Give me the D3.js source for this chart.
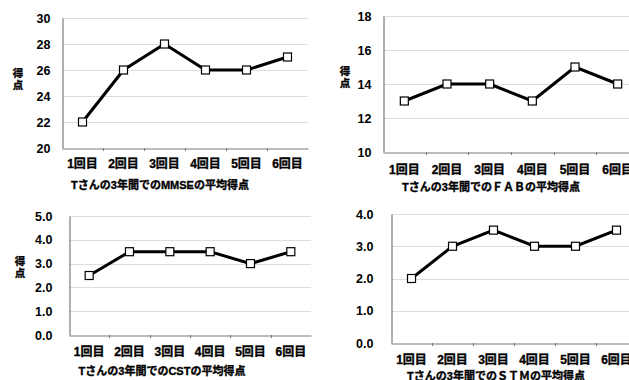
<!DOCTYPE html>
<html><head><meta charset="utf-8">
<script src="https://cdn.jsdelivr.net/npm/d3@7"></script>
<style>
body{margin:0;background:#fff;}
text{font-family:"Liberation Sans","Noto Sans CJK JP",sans-serif;font-weight:bold;fill:#000;}
.cj{stroke:#000;stroke-width:0.35px;}
</style></head>
<body>
<svg id="c" width="629" height="380"></svg>
<script>
const categories = ["1回目","2回目","3回目","4回目","5回目","6回目"];
const mmseValues = [22,26,28,26,26,27];
const fabValues = [13,14,14,13,15,14];
const cstValues = [2.5,3.5,3.5,3.5,3.0,3.5];
const stmValues = [2.0,3.0,3.5,3.0,3.0,3.5];
const mmseTicks = [20,22,24,26,28,30];
const fabTicks = [10,12,14,16,18];
const cstTicks = [0,1,2,3,4,5];
const stmTicks = [0,1,2,3,4];
const titles = ["Tさんの3年間でのMMSEの平均得点","Tさんの3年間でのＦＡＢの平均得点","Tさんの3年間でのCSTの平均得点","Tさんの3年間でのＳＴＭの平均得点"];
const yLabel = ["得","点"];

const svg = d3.select("#c");

function chart(cfg){
  const g = svg.append("g");
  const x = d3.scaleBand().domain(categories).range([cfg.x0,cfg.x1]).padding(0);
  const y = d3.scaleLinear().domain([cfg.ticks[0],cfg.ticks[cfg.ticks.length-1]]).range([cfg.yb,cfg.yt]);
  g.selectAll("line.grid").data(cfg.ticks.slice(1)).join("line").attr("class","grid")
    .attr("x1",cfg.x0).attr("x2",cfg.x1)
    .attr("y1",d=>Math.round(y(d))+0.5).attr("y2",d=>Math.round(y(d))+0.5)
    .attr("stroke","#dedede").attr("stroke-width",1);
  const ya = d3.axisLeft(y).tickValues(cfg.ticks).tickSize(0).tickPadding(cfg.pad).tickFormat(cfg.fmt);
  const yg = g.append("g").attr("transform",`translate(${cfg.x0+0.5},0)`).call(ya);
  yg.select(".domain").attr("stroke","#7a7a7a").attr("stroke-width",1.2);
  yg.selectAll("text").attr("font-size",12.5).style("font-family","Liberation Sans, sans-serif");
  const xa = d3.axisBottom(x).tickSize(0).tickPadding(cfg.xpad);
  const xg = g.append("g").attr("transform",`translate(0,${cfg.yb+0.5})`).call(xa);
  xg.select(".domain").attr("stroke","#7a7a7a").attr("stroke-width",1.2);
  xg.selectAll("text").attr("font-size",12).attr("class","cj");
  g.selectAll("line.xt").data(categories.slice(1)).join("line").attr("class","xt")
    .attr("x1",d=>Math.round(x(d))+0.5).attr("x2",d=>Math.round(x(d))+0.5)
    .attr("y1",cfg.yb).attr("y2",cfg.yb+3).attr("stroke","#7a7a7a");
  const line = d3.line().x((d,i)=>x(categories[i])+x.bandwidth()/2).y(d=>y(d));
  g.append("path").datum(cfg.values).attr("d",line).attr("fill","none")
    .attr("stroke","#000").attr("stroke-width",3).attr("stroke-linejoin","miter");
  g.selectAll("rect.m").data(cfg.values).join("rect").attr("class","m")
    .attr("x",(d,i)=>x(categories[i])+x.bandwidth()/2-4)
    .attr("y",d=>y(d)-4).attr("width",8).attr("height",8)
    .attr("fill","#fff").attr("stroke","#000").attr("stroke-width",1.2);
  g.append("text").attr("class","cj").attr("x",cfg.tx).attr("y",cfg.ty).attr("text-anchor","middle")
    .attr("dominant-baseline","middle").attr("font-size",11).text(cfg.title);
  if(cfg.lab){
    yLabel.forEach((d,i)=>{
      g.append("text").attr("class","cj")
        .attr("x",cfg.lab[0]).attr("y",cfg.lab[1]+i*12)
        .attr("text-anchor","middle").attr("dominant-baseline","middle")
        .attr("font-size",10.5).text(d);
    });
  }
}

chart({x0:62,x1:308,yt:18,yb:148,ticks:mmseTicks,values:mmseValues,fmt:d3.format("d"),pad:12,xpad:11,title:titles[0],tx:160,ty:186,lab:[18,74]});
chart({x0:383,x1:639,yt:16,yb:152,ticks:fabTicks,values:fabValues,fmt:d3.format("d"),pad:12,xpad:13,title:titles[1],tx:491,ty:188,lab:[345,72]});
chart({x0:69,x1:311,yt:216,yb:335,ticks:cstTicks,values:cstValues,fmt:d3.format(".1f"),pad:17,xpad:12,title:titles[2],tx:162,ty:372,lab:[20,262]});
chart({x0:391,x1:637,yt:214,yb:343,ticks:stmTicks,values:stmValues,fmt:d3.format(".1f"),pad:18,xpad:12,title:titles[3],tx:496,ty:377,lab:null});
</script>
</body></html>
